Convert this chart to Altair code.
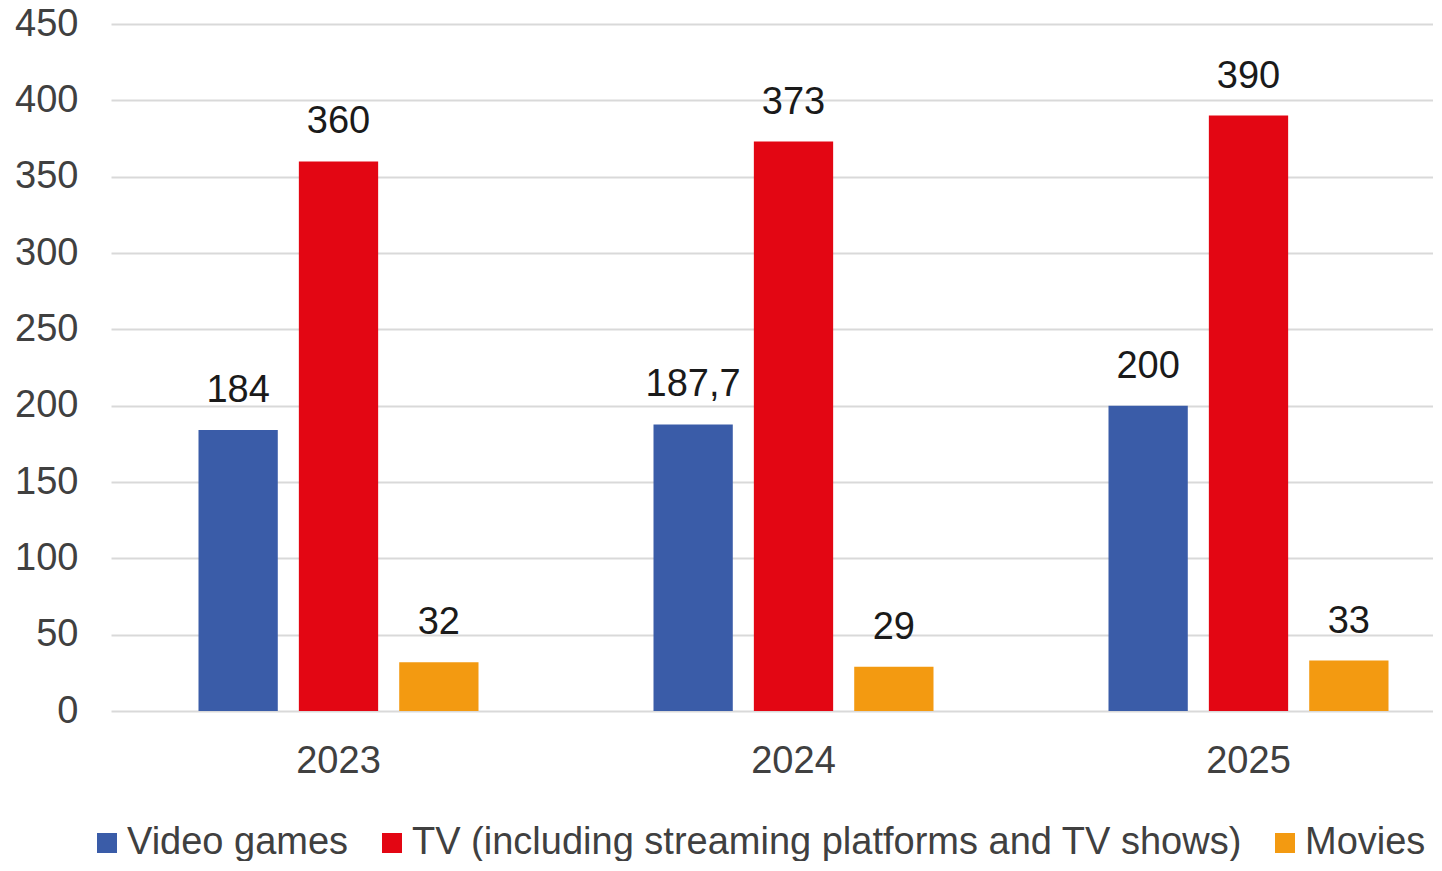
import altair as alt
import pandas as pd

years = ["2023", "2024", "2025"]
series = ["Video games", "TV (including streaming platforms and TV shows)", "Movies"]
video_games = [184, 187.7, 200]
tv = [360, 373, 390]
movies = [32, 29, 33]
colors = ["#3A5CA8", "#E30613", "#F39A11"]
y_ticks = [0, 50, 100, 150, 200, 250, 300, 350, 400, 450]

rows = []
for i, y in enumerate(years):
    for s, vals in zip(series, [video_games, tv, movies]):
        v = vals[i]
        lab = str(int(v)) if float(v).is_integer() else str(v).replace(".", ",")
        rows.append({"year": y, "series": s, "value": v, "label": lab})
df = pd.DataFrame(rows)

FONT = "Liberation Sans"
FS = 38

x_enc = alt.X("year:N", sort=years,
              scale=alt.Scale(range=[0, 1365], paddingInner=0.3846, paddingOuter=0.1923),
              axis=alt.Axis(title=None, labelAngle=0, domain=False, ticks=False,
                            labelPadding=31, labelFontSize=FS, labelColor="#404040",
                            labelFont=FONT))
xo_enc = alt.XOffset("series:N", sort=series,
                     scale=alt.Scale(paddingInner=0.21, paddingOuter=0))

bars = alt.Chart(df).mark_bar().encode(
    x=x_enc,
    xOffset=xo_enc,
    y=alt.Y("value:Q", scale=alt.Scale(domain=[0, 450], nice=False),
            axis=alt.Axis(title=None, values=y_ticks, domain=False, ticks=False,
                          labelPadding=33, labelFontSize=FS, labelColor="#404040",
                          labelFont=FONT, gridColor="#D9D9D9", gridWidth=2)),
    color=alt.Color("series:N", sort=series,
                    scale=alt.Scale(domain=series, range=colors),
                    legend=alt.Legend(title=None, orient="none", direction="horizontal",
                                      legendX=-23, legendY=800, symbolType="square",
                                      symbolSize=400, symbolStrokeWidth=0,
                                      labelFontSize=FS, labelFont=FONT,
                                      labelColor="#404040", labelOffset=1,
                                      columnPadding=24, labelLimit=1000)),
)

text = alt.Chart(df).mark_text(baseline="alphabetic", dy=-28, fontSize=FS,
                               font=FONT, color="#1A1A1A").encode(
    x=alt.X("year:N", sort=years),
    xOffset=alt.XOffset("series:N", sort=series),
    y="value:Q",
    text="label:N",
)

chart = alt.layer(bars, text).properties(
    width=1322, height=687,
    autosize=alt.AutoSizeParams(type="none"),
    padding={"left": 103, "top": 16, "right": 0, "bottom": 150},
).configure_view(stroke=None)

chart.save("out.html", embed_options={"renderer": "svg", "actions": False})
